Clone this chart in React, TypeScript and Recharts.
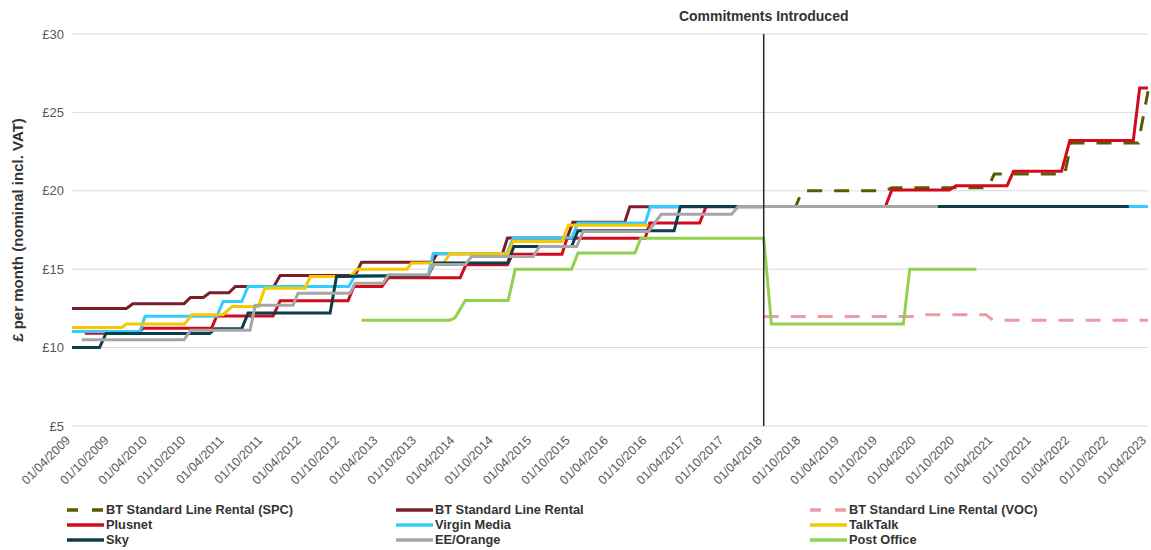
import { LineChart, Line, XAxis, YAxis, CartesianGrid, ReferenceLine, Label } from "recharts";

// months since 01/04/2009 -> price (£, nominal incl. VAT)
const xLabels = [
  "01/04/2009", "01/10/2009", "01/04/2010", "01/10/2010", "01/04/2011", "01/10/2011",
  "01/04/2012", "01/10/2012", "01/04/2013", "01/10/2013", "01/04/2014", "01/10/2014",
  "01/04/2015", "01/10/2015", "01/04/2016", "01/10/2016", "01/04/2017", "01/10/2017",
  "01/04/2018", "01/10/2018", "01/04/2019", "01/10/2019", "01/04/2020", "01/10/2020",
  "01/04/2021", "01/10/2021", "01/04/2022", "01/10/2022", "01/04/2023",
];
const xTicks = [0, 6, 12, 18, 24, 30, 36, 42, 48, 54, 60, 66, 72, 78, 84, 90, 96, 102, 108, 114, 120, 126, 132, 138, 144, 150, 156, 162, 168];
const yTicks = [5, 10, 15, 20, 25, 30];
const commitmentsMonth = 108;

const btSpc = [[108, 19], [113, 19], [114, 20], [127, 20], [128, 20.2], [143, 20.2], [144, 21.07], [155, 21.07], [156, 23.05], [166.5, 23.05], [168, 26.35]];
const btStandard = [[0, 12.5], [8.5, 12.5], [9.5, 12.8], [17.5, 12.8], [18.5, 13.2], [20.5, 13.2], [21.5, 13.5], [24.5, 13.5], [25.5, 13.9], [31.5, 13.9], [32.5, 14.6], [44.2, 14.6], [45.2, 15.45], [56.2, 15.45], [57, 15.99], [67.2, 15.99], [68, 16.99], [77.3, 16.99], [78.2, 17.99], [86.3, 17.99], [87.1, 18.99], [108, 18.99]];
const btVoc = [[108, 11.98], [131.5, 11.98], [132.5, 12.1], [142.7, 12.1], [143.8, 11.75], [168, 11.75]];
const plusnet = [[2, 10.92], [10.3, 10.92], [11.1, 11.24], [21.8, 11.24], [22.6, 12.02], [31.4, 12.02], [32.5, 12.98], [43.1, 12.98], [44, 13.9], [48.4, 13.9], [49.4, 14.45], [60.6, 14.45], [61.5, 15.28], [68, 15.28], [68.8, 15.96], [76.5, 15.96], [77.3, 16.98], [89.5, 16.98], [90.2, 17.94], [98, 17.94], [99, 19], [127, 19], [128, 20.05], [137, 20.05], [138, 20.33], [146, 20.33], [147, 21.24], [154.5, 21.24], [155.8, 23.2], [165.7, 23.2], [166.7, 26.56], [168, 26.56]];
const virgin = [[0, 11.02], [10.6, 11.02], [11.4, 12.0], [22.6, 12.0], [23.6, 12.94], [26.5, 12.94], [27.5, 13.9], [43.2, 13.9], [44.2, 14.6], [55.6, 14.6], [56.4, 16.0], [67.9, 16.0], [68.9, 17.0], [78, 17.0], [79, 17.95], [89.5, 17.95], [90.3, 19], [168, 19]];
const talkTalk = [[0, 11.28], [7.8, 11.28], [8.5, 11.5], [17.6, 11.5], [18.7, 12.1], [23.6, 12.1], [25, 12.62], [29.1, 12.62], [30.1, 13.79], [36.4, 13.79], [37.2, 14.53], [43.4, 14.53], [44.5, 15.0], [52.3, 15.0], [53, 15.39], [58, 15.39], [59, 15.98], [68, 15.98], [68.9, 16.77], [76.5, 16.77], [77.5, 17.8], [90, 17.8]];
const sky = [[0, 10], [4.3, 10], [5.3, 10.9], [21.5, 10.9], [22.3, 11.2], [26.5, 11.2], [27.5, 12.2], [40.3, 12.2], [41.3, 14.53], [55.6, 14.6], [56.6, 15.39], [68, 15.39], [69, 16.45], [78, 16.45], [79, 17.45], [94, 17.45], [95, 19], [165, 19]];
const eeOrange = [[1.5, 10.5], [17.5, 10.5], [18.5, 11.1], [27.8, 11.1], [28.6, 12.7], [34.5, 12.7], [35.3, 13.47], [43.4, 13.47], [44.2, 14.11], [48.6, 14.11], [49.4, 14.64], [55.6, 14.64], [56.4, 15.3], [61.4, 15.3], [62.4, 15.81], [72, 15.81], [73, 16.45], [78.8, 16.45], [79.8, 17.41], [90, 17.41], [92, 18.5], [103, 18.5], [104, 19], [135.2, 19]];
const postOffice = [[45.2, 11.75], [59, 11.75], [59.8, 11.9], [61.4, 13.0], [68.1, 13.0], [69.2, 15.0], [78, 15.0], [79, 16.03], [87.9, 16.03], [88.8, 16.98], [108, 16.98], [109.2, 11.5], [129.8, 11.5], [130.8, 15.0], [141.2, 15.0]];

const series = [
  { name: "BT Standard Line Rental (SPC)", points: btSpc, color: "#5C5A00", dash: "15 12" },
  { name: "BT Standard Line Rental", points: btStandard, color: "#7A1E2B" },
  { name: "BT Standard Line Rental (VOC)", points: btVoc, color: "#EE9AA5", dash: "15 12" },
  { name: "Plusnet", points: plusnet, color: "#D20A1E" },
  { name: "Virgin Media", points: virgin, color: "#33CCFF" },
  { name: "TalkTalk", points: talkTalk, color: "#F5C800" },
  { name: "Sky", points: sky, color: "#0E3D4A" },
  { name: "EE/Orange", points: eeOrange, color: "#A6A6A6" },
  { name: "Post Office", points: postOffice, color: "#92D050" },
];

const toRows = (pts: number[][]) => pts.map(([m, v]) => ({ m, v }));

const font = "'Liberation Sans', Arial, sans-serif";

function DateTick({ x, y, payload }: any) {
  const label = xLabels[xTicks.indexOf(payload.value)];
  return (
    <g transform={`translate(${x - 1},${y + 7})`}>
      <text x={0} y={0} textAnchor="end" transform="rotate(-45)" fontSize={12.5} fill="#595959" fontFamily={font}>
        {label}
      </text>
    </g>
  );
}

function LegendBox() {
  const cols = [66, 395, 809];
  return (
    <div style={{ position: "absolute", left: 0, top: 502, width: 1151, fontFamily: font }}>
      {series.map((s, i) => {
        const col = i % 3;
        const row = Math.floor(i / 3);
        return (
          <div
            key={s.name}
            style={{ position: "absolute", left: cols[col], top: row * 15, display: "flex", alignItems: "center", height: 15 }}
          >
            <svg width={40} height={15}>
              <line x1={1} y1={8} x2={38} y2={8} stroke={s.color} strokeWidth={3.5} strokeDasharray={s.dash ? "11 14" : undefined} />
            </svg>
            <span style={{ fontSize: 12.8, fontWeight: 700, color: "#333333", lineHeight: "15px" }}>{s.name}</span>
          </div>
        );
      })}
    </div>
  );
}

export default function App() {
  return (
    <div style={{ position: "absolute", left: 0, top: 0, width: 1151, height: 550, background: "#fff" }}>
      <LineChart width={1151} height={550} margin={{ top: 34, right: 3, bottom: 64, left: 0 }}>
        <CartesianGrid vertical={false} stroke="#D9D9D9" strokeWidth={1} />
        <XAxis
          type="number"
          dataKey="m"
          domain={[0, 168]}
          ticks={xTicks}
          interval={0}
          tick={<DateTick />}
          tickLine={false}
          axisLine={false}
          height={60}
          allowDuplicatedCategory={false}
        />
        <YAxis
          type="number"
          domain={[5, 30]}
          ticks={yTicks}
          width={72}
          tickLine={false}
          axisLine={false}
          tickFormatter={(v: number) => `£${v}`}
          tick={{ fontSize: 13, fill: "#595959", fontFamily: font }}
        >
          <Label
            content={() => (
              <text
                transform="translate(23,230) rotate(-90)"
                textAnchor="middle"
                fontSize={15}
                fontWeight={700}
                fill="#333333"
                fontFamily={font}
              >
                £ per month (nominal incl. VAT)
              </text>
            )}
          />
        </YAxis>
        {series.map((s) => (
          <Line
            key={s.name}
            data={toRows(s.points)}
            dataKey="v"
            name={s.name}
            type="linear"
            stroke={s.color}
            strokeWidth={3}
            strokeDasharray={s.dash}
            dot={false}
            activeDot={false}
            isAnimationActive={false}
          />
        ))}
        <ReferenceLine x={commitmentsMonth} stroke="#262626" strokeWidth={1.5}>
          <Label value="Commitments Introduced" position="top" offset={13} fontSize={14} fontWeight={700} fill="#333333" fontFamily={font} />
        </ReferenceLine>
      </LineChart>
      <LegendBox />
    </div>
  );
}
